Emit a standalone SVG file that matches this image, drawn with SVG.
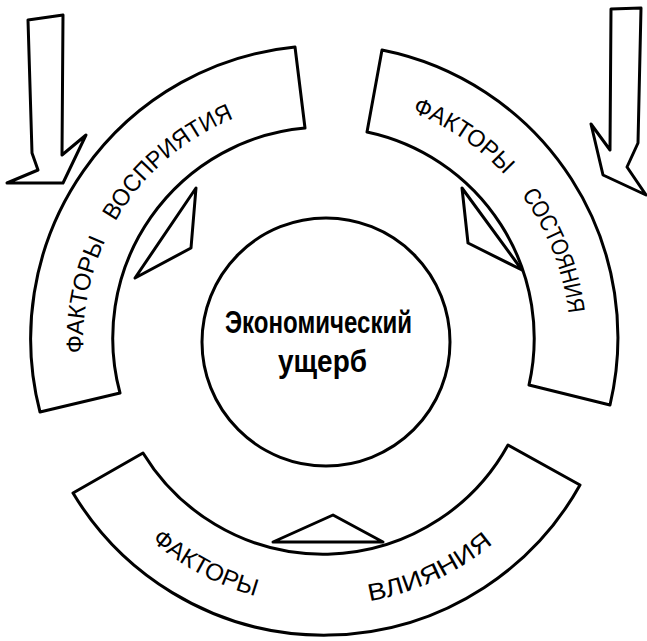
<svg xmlns="http://www.w3.org/2000/svg" width="647" height="641" viewBox="0 0 647 641">
<style>
.shape{fill:#fff;stroke:#000;stroke-width:3;stroke-linejoin:round}
.lbl{font-family:"Liberation Sans","DejaVu Sans",sans-serif;font-size:24px;fill:#000}
.ctr{font-family:"Liberation Sans","DejaVu Sans",sans-serif;font-size:31px;font-weight:bold;fill:#000}
</style>
<defs>
<path id="pLeft" d="M86.7,383.8 A241,241 0 0 1 303,101.9"/>
<path id="pRight" d="M366.7,99.7 A246,246 0 0 1 561.6,405.7"/>
<path id="pBottom" d="M96.2,473.5 A263,263 0 0 0 556.2,465.5"/>
</defs>
<rect width="647" height="641" fill="#fff"/>
<g id="connectors">
<polygon class="shape" points="28,20 63,15 62,155 86,135 63,183 7,183 38,170 32,153"/>
<polygon class="shape" points="611,9 641,8 638,143 627,167 646,195 603,175 591,124 610,150"/>
<polygon class="shape" points="196,188 191,248 135,278"/>
<polygon class="shape" points="462,188 468,243 522,270"/>
<polygon class="shape" points="273,542 333,515 383,542"/>
</g>
<g id="perception">
<path class="shape" d="M295,47 L305,128 A211,211 0 0 0 120,393 L40,412 A293,293 0 0 1 295,47 Z"/>
<text class="lbl"><textPath href="#pLeft" startOffset="31" textLength="116" lengthAdjust="spacingAndGlyphs">ФАКТОРЫ</textPath></text>
<text class="lbl"><textPath href="#pLeft" startOffset="168" textLength="160" lengthAdjust="spacingAndGlyphs">ВОСПРИЯТИЯ</textPath></text>
</g>
<g id="state">
<path class="shape" d="M382,50 A293,293 0 0 1 610,405 L529,385 A211,211 0 0 0 367,132 Z"/>
<text class="lbl"><textPath href="#pRight" startOffset="47" textLength="113" lengthAdjust="spacingAndGlyphs">ФАКТОРЫ</textPath></text>
<text class="lbl"><textPath href="#pRight" startOffset="186" textLength="129" lengthAdjust="spacingAndGlyphs">СОСТОЯНИЯ</textPath></text>
</g>
<g id="influence">
<path class="shape" d="M143,453 A211,211 0 0 0 508,445 L580,485 A293,293 0 0 1 73,493 Z"/>
<text class="lbl"><textPath href="#pBottom" startOffset="87" textLength="119" lengthAdjust="spacingAndGlyphs">ФАКТОРЫ</textPath></text>
<text class="lbl"><textPath href="#pBottom" startOffset="321" textLength="138" lengthAdjust="spacingAndGlyphs">ВЛИЯНИЯ</textPath></text>
</g>
<g id="damage">
<circle class="shape" cx="326" cy="342" r="124"/>
<text class="ctr" x="225" y="333" textLength="187" lengthAdjust="spacingAndGlyphs">Экономический</text>
<text class="ctr" x="278" y="372" textLength="89" lengthAdjust="spacingAndGlyphs">ущерб</text>
</g>
</svg>
